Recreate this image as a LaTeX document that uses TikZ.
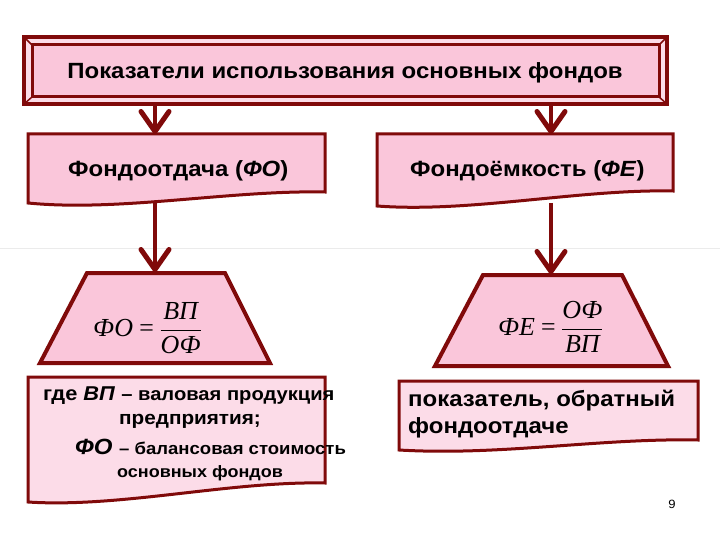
\documentclass[tikz,border=0pt]{standalone}
\usepackage{fontspec}
\setmainfont[FakeStretch=1.09]{Liberation Sans}
\newfontfamily\serifF{Liberation Serif}
\usetikzlibrary{arrows.meta}
\definecolor{dred}{RGB}{128,10,10}
\definecolor{pinkA}{RGB}{250,198,218}
\definecolor{pinkB}{RGB}{252,220,232}
\tikzset{
  frame/.style={draw=dred, line width=3pt, fill=pinkA, line join=miter},
  softframe/.style={draw=dred, line width=3pt, fill=pinkB},
  conn/.style={draw=dred, line width=4.5pt, -{Straight Barb[length=20pt,width=28pt,line width=5pt,round]}},
  lbl/.style={font=\fontsize{22}{26}\selectfont\bfseries, inner sep=0pt},
  frm/.style={font=\fontsize{26}{30}\selectfont\serifF\itshape, inner sep=0pt},
}
\newcommand{\fracT}[2]{$\displaystyle\frac{\hbox{#1}}{\hbox{#2}}$}
\begin{document}
\begin{tikzpicture}[x=1pt,y=-1pt]
\useasboundingbox (0,0) rectangle (720,540);
\fill[white] (0,0) rectangle (720,540);
\draw[black!8, line width=1pt] (0,248) -- (720,248);
% top bevel box
\path[draw=dred, line width=3.5pt, fill=pinkB] (24,37) rectangle (667,104);
\path[draw=dred, line width=3pt, fill=pinkA] (32,45) rectangle (659,97);
\draw[dred, line width=1.5pt] (24,37) -- (32,45) (667,37) -- (659,45) (24,104) -- (32,97) (667,104) -- (659,97);
\node[lbl, anchor=base] (title) at (345,79) {Показатели использования основных фондов};
\coordinate (tL) at (155,104);
\coordinate (tR) at (551,104);
% second row boxes
\path[frame] (28,134) -- (325,134) -- (325,192) .. controls (230,190) and (120,212) .. (28,203) -- cycle;
\path[frame] (377,134) -- (673,134) -- (673,191) .. controls (580,189) and (470,213) .. (377,206) -- cycle;
\node[lbl, anchor=base west] (fo) at (68,177) {Фондоотдача (\textit{ФО})};
\node[lbl, anchor=base west] (fe) at (410,177) {Фондоёмкость (\textit{ФЕ})};
\coordinate (foT) at (155,134);
\coordinate (feT) at (551,134);
\coordinate (foB) at (155,201);
\coordinate (feB) at (551,203);
% trapezoids
\path[frame, line width=4pt] (87,273) -- (225,273) -- (270,363) -- (40,363) -- cycle;
\path[frame, line width=4pt] (483,275) -- (622,275) -- (668,366) -- (435,366) -- cycle;
\coordinate (trL) at (155,272);
\coordinate (trR) at (551,274);
\node[frm, anchor=west] (f1) at (93,328) {ФО\,=\,\fracT{ВП}{ОФ}};
\node[frm, anchor=west] (f2) at (498,327) {ФЕ\,=\,\fracT{ОФ}{ВП}};
% arrows
\draw[conn] (tL) -- (foT);
\draw[conn] (tR) -- (feT);
\draw[conn] (foB) -- (trL);
\draw[conn] (feB) -- (trR);
% bottom boxes
\path[softframe] (28,377) -- (325,377) -- (325,483) .. controls (230,481) and (120,508) .. (28,502) -- cycle;
\path[softframe] (399,381) -- (698,381) -- (698,440) .. controls (600,438) and (500,456) .. (399,450) -- cycle;
\node[inner sep=0pt, anchor=base west] (l1) at (43,400) {\fontsize{20}{22}\selectfont\bfseries где \textit{ВП} \fontsize{18.5}{20}\selectfont – валовая продукция};
\node[inner sep=0pt, anchor=base] (l2) at (190,424) {\fontsize{19}{20}\selectfont\bfseries предприятия;};
\node[inner sep=0pt, anchor=base west] (l3) at (75,454) {\fontsize{22}{22}\selectfont\bfseries\textit{ФО} \fontsize{17}{20}\selectfont – балансовая стоимость};
\node[inner sep=0pt, anchor=base] (l4) at (200,477) {\fontsize{16.5}{20}\selectfont\bfseries основных фондов};
\node[inner sep=0pt, anchor=base west, font=\fontsize{22}{27}\selectfont\bfseries] (r1) at (408,406) {показатель, обратный};
\node[inner sep=0pt, anchor=base west, font=\fontsize{22}{27}\selectfont\bfseries] (r2) at (408,433) {фондоотдаче};
\node[inner sep=0pt, font=\fontsize{12}{14}\selectfont] (pg) at (672,504) {9};
\end{tikzpicture}
\end{document}
